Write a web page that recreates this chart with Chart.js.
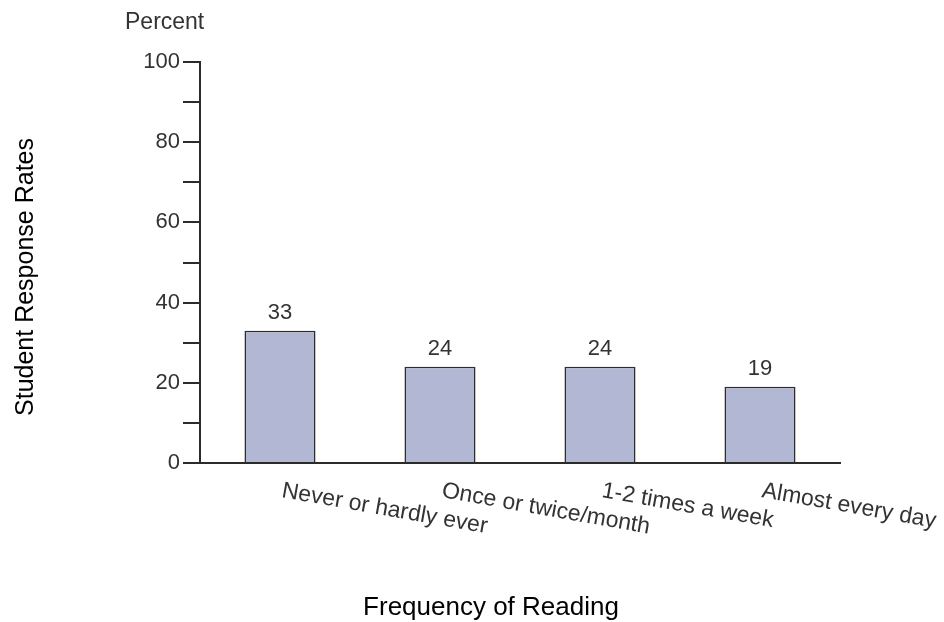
<!DOCTYPE html>
<html>
<head>
<meta charset="utf-8">
<script src="https://cdn.jsdelivr.net/npm/chart.js@4"></script>
<style>
  html, body { margin: 0; padding: 0; background: #fff; }
  #wrap { width: 944px; height: 622px; position: relative; }
</style>
</head>
<body>
<div id="wrap"><canvas id="c" width="944" height="622"></canvas></div>
<script>
// ---- data ----
const categories = ["Never or hardly ever", "Once or twice/month", "1-2 times a week", "Almost every day"];
const percentValues = [33, 24, 24, 19];
const yTickLabels = [0, 20, 40, 60, 80, 100];
const yUnitLabel = "Percent";
const yAxisTitle = "Student Response Rates";
const xAxisTitle = "Frequency of Reading";

const FONT = "'Liberation Sans', Arial, sans-serif";
const TEXT = "#333333";

const textPlugin = {
  id: 'textPlugin',
  afterDraw(chart) {
    const ctx = chart.ctx;
    const xs = chart.scales.x;
    const ca = chart.chartArea;
    ctx.save();
    // value labels above bars
    const meta = chart.getDatasetMeta(0);
    ctx.fillStyle = TEXT;
    ctx.font = "22px " + FONT;
    ctx.textAlign = "center";
    ctx.textBaseline = "alphabetic";
    meta.data.forEach((bar, i) => {
      ctx.fillText(String(percentValues[i]), bar.x, bar.y - 12);
    });
    // rotated category labels
    ctx.font = "23px " + FONT;
    ctx.textAlign = "left";
    categories.forEach((lab, i) => {
      const x = xs.getPixelForTick(i) + 1;
      ctx.save();
      ctx.translate(x, ca.bottom + 34);
      ctx.rotate(10 * Math.PI / 180);
      ctx.fillText(lab, 0, 0);
      ctx.restore();
    });
    // unit label
    ctx.font = "23px " + FONT;
    ctx.textAlign = "left";
    ctx.fillText(yUnitLabel, 125, 29);
    // y title
    ctx.fillStyle = "#000";
    ctx.font = "25px " + FONT;
    ctx.save();
    ctx.translate(33, 277);
    ctx.rotate(-Math.PI / 2);
    ctx.textAlign = "center";
    ctx.fillText(yAxisTitle, 0, 0);
    ctx.restore();
    // x title
    ctx.font = "26px " + FONT;
    ctx.textAlign = "center";
    ctx.fillText(xAxisTitle, 491, 615);
    ctx.restore();
  }
};

new Chart(document.getElementById('c'), {
  type: 'bar',
  data: {
    labels: categories,
    datasets: [{
      data: percentValues,
      backgroundColor: '#b2b7d4',
      borderColor: '#2b2b2b',
      borderWidth: 1.5,
      categoryPercentage: 1,
      barPercentage: 0.444
    }]
  },
  options: {
    responsive: false,
    animation: false,
    devicePixelRatio: 1,
    layout: { padding: { left: 0, right: 104, top: 62, bottom: 0 } },
    plugins: { legend: { display: false }, tooltip: { enabled: false } },
    scales: {
      x: {
        grid: { display: false },
        border: { display: true, color: '#2b2b2b', width: 2 },
        ticks: { display: false },
        afterFit(s) { s.height = 159; s.paddingLeft = 0; s.paddingRight = 0; }
      },
      y: {
        min: 0, max: 100,
        grid: { display: true, drawOnChartArea: false, drawTicks: true, tickLength: 17, color: '#2b2b2b', lineWidth: 2 },
        border: { display: true, color: '#2b2b2b', width: 2 },
        ticks: {
          stepSize: 10,
          padding: 3,
          color: TEXT,
          font: { family: FONT, size: 22 },
          callback: (v) => yTickLabels.includes(v) ? String(v) : ''
        },
        afterFit(s) { s.width = 200; s.paddingTop = 0; s.paddingBottom = 0; }
      }
    }
  },
  plugins: [textPlugin]
});
</script>
</body>
</html>
